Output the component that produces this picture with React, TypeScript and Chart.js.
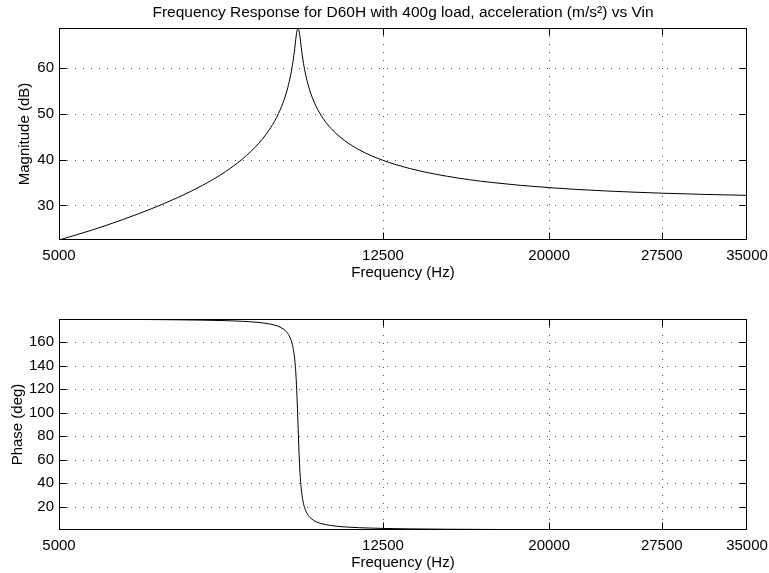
import React, { useEffect, useRef } from "react";
import { Chart, registerables } from "chart.js";

Chart.register(...registerables);

// ---- data ----
const FREQ_HZ = [
  5000, 5500, 6000, 6500, 7000, 7500, 8000, 8400, 8800, 9100, 9300, 9450, 9550, 9630,
  9690, 9740, 9780, 9810, 9830, 9850, 9880, 9920, 9970, 10030, 10100, 10200, 10350,
  10550, 10800, 11200, 11700, 12500, 13500, 15000, 17000, 20000, 23500, 27500, 31000, 35000,
];
const MAGNITUDE_DB = [
  22.45, 24.67, 26.97, 29.31, 31.75, 34.38, 37.35, 40.15, 43.62, 47.02, 50.06, 53.1, 55.8, 58.63,
  61.41, 64.37, 67.09, 68.45, 68.8, 68.45, 67.2, 64.58, 61.76, 59.14, 56.81, 54.31, 51.61,
  49.06, 46.79, 44.27, 42.12, 39.87, 38.06, 36.37, 35.03, 33.9, 33.17, 32.69, 32.42, 32.21,
];
const PHASE_DEG = [
  179.49, 179.39, 179.28, 179.12, 178.92, 178.64, 178.21, 177.64, 176.65, 175.19, 173.31, 170.64,
  167.32, 162.46, 155.62, 144.76, 128.12, 107.38, 90.0, 72.63, 52.03, 35.5, 24.68, 17.88, 13.49,
  9.98, 7.18, 5.25, 3.95, 2.84, 2.13, 1.54, 1.15, 0.86, 0.65, 0.48, 0.38, 0.31, 0.26, 0.23,
];
const X_TICKS = [5000, 12500, 20000, 27500, 35000];
const MAG_TICKS = [30, 40, 50, 60];
const PHASE_TICKS = [20, 40, 60, 80, 100, 120, 140, 160];
const X_RANGE = [5000, 35000];
const MAG_RANGE = [22.45, 68.8];
const PHASE_RANGE = [0.2, 179.6];

const TITLE = "Frequency Response for D60H with 400g load, acceleration (m/s\u00B2) vs Vin";
const X_LABEL = "Frequency (Hz)";
const MAG_LABEL = "Magnitude (dB)";
const PHASE_LABEL = "Phase (deg)";

const FONT_FAMILY = "'Liberation Sans', Arial, Helvetica, sans-serif";
const FONT = { family: FONT_FAMILY, size: 15, weight: "normal" as const };
const TITLE_FONT = { family: FONT_FAMILY, size: 15.5, weight: "normal" as const };

const matlabAxes = {
  id: "matlabAxes",
  beforeDatasetsDraw(chart: any) {
    const { ctx, chartArea: a } = chart;
    const xs = chart.scales.x;
    const ys = chart.scales.y;
    ctx.save();
    ctx.strokeStyle = "#555";
    ctx.lineWidth = 1;
    ctx.setLineDash([1, 7]);
    for (const t of xs.ticks) {
      const p = Math.round(xs.getPixelForValue(t.value)) + 0.5;
      if (p <= a.left + 2 || p >= a.right - 2) continue;
      ctx.beginPath();
      ctx.moveTo(p, a.top);
      ctx.lineTo(p, a.bottom);
      ctx.stroke();
    }
    for (const t of ys.ticks) {
      const p = Math.round(ys.getPixelForValue(t.value)) + 0.5;
      ctx.beginPath();
      ctx.moveTo(a.left + 8, p);
      ctx.lineTo(a.right, p);
      ctx.stroke();
    }
    ctx.restore();
  },
  afterDraw(chart: any) {
    const { ctx, chartArea: a } = chart;
    const xs = chart.scales.x;
    const ys = chart.scales.y;
    const L = Math.round(a.left) + 0.5;
    const R = Math.round(a.right) - 0.5;
    const T = Math.round(a.top) + 0.5;
    const B = Math.round(a.bottom) - 0.5;
    ctx.save();
    ctx.strokeStyle = "#000";
    ctx.lineWidth = 1;
    ctx.setLineDash([]);
    ctx.strokeRect(L, T, R - L, B - T);
    const len = 7;
    ctx.beginPath();
    for (const t of xs.ticks) {
      const p = Math.round(xs.getPixelForValue(t.value)) + 0.5;
      if (p <= L + 1 || p >= R - 1) continue;
      ctx.moveTo(p, B);
      ctx.lineTo(p, B - len);
      ctx.moveTo(p, T);
      ctx.lineTo(p, T + len);
    }
    for (const t of ys.ticks) {
      const p = Math.round(ys.getPixelForValue(t.value)) + 0.5;
      if (p <= T + 1 || p >= B - 1) continue;
      ctx.moveTo(L, p);
      ctx.lineTo(L + len, p);
      ctx.moveTo(R, p);
      ctx.lineTo(R - len, p);
    }
    ctx.stroke();
    ctx.restore();
  },
};

type PanelCfg = {
  values: number[];
  range: number[];
  yTicks: number[];
  yLabel: string;
  yTitlePad: number;
  title?: string;
  topPad: number;
  xHeight: number;
  xTitlePadBottom: number;
};

function buildChart(canvas: HTMLCanvasElement, cfg: PanelCfg) {
  return new Chart(canvas, {
    type: "line",
    data: {
      datasets: [
        {
          data: FREQ_HZ.map((f, i) => ({ x: f, y: cfg.values[i] })),
          borderColor: "#000",
          borderWidth: 1,
          pointRadius: 0,
          fill: false,
          cubicInterpolationMode: "monotone",
        },
      ],
    },
    options: {
      responsive: false,
      animation: false,
      devicePixelRatio: 1,
      layout: { padding: { top: cfg.topPad, right: 22, bottom: 0, left: 0 } },
      plugins: {
        legend: { display: false },
        tooltip: { enabled: false },
        title: cfg.title
          ? {
              display: true,
              text: cfg.title,
              color: "#000",
              font: TITLE_FONT,
              fullSize: false,
              padding: { top: 3, bottom: 6.4 },
            }
          : { display: false },
      },
      scales: {
        x: {
          type: "logarithmic",
          position: "bottom",
          min: X_RANGE[0],
          max: X_RANGE[1],
          afterBuildTicks: (s: any) => {
            s.ticks = X_TICKS.map((v) => ({ value: v }));
          },
          afterFit: (s: any) => {
            s.height = cfg.xHeight;
            s.paddingLeft = 0;
            s.paddingRight = 0;
          },
          grid: { display: false, drawTicks: false },
          border: { display: false },
          ticks: {
            autoSkip: false,
            maxRotation: 0,
            minRotation: 0,
            padding: 7,
            color: "#000",
            font: FONT,
            callback: (v: any) => String(v),
          },
          title: {
            display: true,
            text: X_LABEL,
            color: "#000",
            font: FONT,
            padding: { top: 0, bottom: cfg.xTitlePadBottom },
          },
        },
        y: {
          type: "linear",
          min: cfg.range[0],
          max: cfg.range[1],
          afterBuildTicks: (s: any) => {
            s.ticks = cfg.yTicks.map((v) => ({ value: v }));
          },
          afterFit: (s: any) => {
            s.width = 59;
            s.paddingTop = 0;
            s.paddingBottom = 0;
          },
          grid: { display: false, drawTicks: false },
          border: { display: false },
          ticks: {
            padding: 5,
            color: "#000",
            font: FONT,
            callback: (v: any) => String(v),
          },
          title: {
            display: true,
            text: cfg.yLabel,
            color: "#000",
            font: FONT,
            padding: { top: cfg.yTitlePad, bottom: 0 },
          },
        },
      },
    } as any,
    plugins: [matlabAxes],
  });
}

export default function App() {
  const topRef = useRef<HTMLCanvasElement>(null);
  const botRef = useRef<HTMLCanvasElement>(null);

  useEffect(() => {
    const c1 = buildChart(topRef.current!, {
      values: MAGNITUDE_DB,
      range: MAG_RANGE,
      yTicks: MAG_TICKS,
      yLabel: MAG_LABEL,
      yTitlePad: 16,
      title: TITLE,
      topPad: 0,
      xHeight: 50,
      xTitlePadBottom: 8.4,
    });
    const c2 = buildChart(botRef.current!, {
      values: PHASE_DEG,
      range: PHASE_RANGE,
      yTicks: PHASE_TICKS,
      yLabel: PHASE_LABEL,
      yTitlePad: 9,
      topPad: 29,
      xHeight: 43,
      xTitlePadBottom: 1.4,
    });
    return () => {
      c1.destroy();
      c2.destroy();
    };
  }, []);

  return (
    <div
      style={{
        position: "fixed",
        left: 0,
        top: 0,
        width: 769,
        height: 573,
        background: "#fff",
        overflow: "hidden",
      }}
    >
      <canvas
        ref={topRef}
        width={769}
        height={290}
        style={{ position: "absolute", left: 0, top: 0, width: 769, height: 290 }}
      />
      <canvas
        ref={botRef}
        width={769}
        height={283}
        style={{ position: "absolute", left: 0, top: 290, width: 769, height: 283 }}
      />
    </div>
  );
}
